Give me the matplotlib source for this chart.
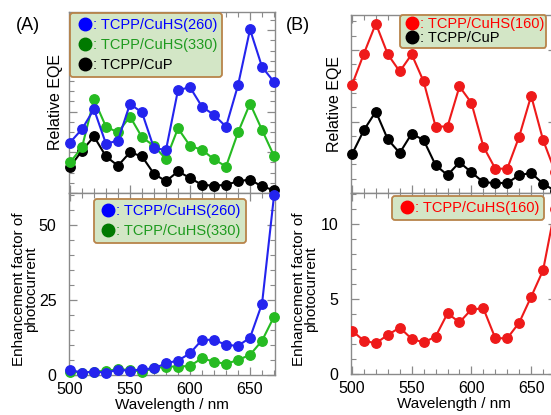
import matplotlib
matplotlib.use("Agg")
import matplotlib.pyplot as plt
from matplotlib.lines import Line2D
from matplotlib.ticker import MultipleLocator, NullFormatter

plt.rcParams['font.family'] = ['Liberation Sans', 'DejaVu Sans']

wavelength = [500, 510, 520, 530, 540, 550, 560, 570, 580, 590,
              600, 610, 620, 630, 640, 650, 660, 670]

# Panel A, relative EQE (arbitrary units)
eqe_a_260 = [1.24, 1.57, 2.06, 1.21, 1.29, 2.19, 1.98, 1.10, 1.06, 2.53,
             2.60, 2.12, 1.92, 1.63, 2.65, 4.02, 3.10, 2.73]
eqe_a_330 = [0.75, 1.12, 2.30, 1.63, 1.49, 1.88, 1.37, 1.16, 0.83, 1.59,
             1.16, 1.06, 0.83, 0.65, 1.49, 2.20, 1.55, 0.91]
eqe_a_cup = [0.64, 1.04, 1.39, 0.90, 0.67, 1.00, 0.90, 0.47, 0.29, 0.53,
             0.37, 0.20, 0.18, 0.20, 0.29, 0.33, 0.16, 0.07]

# Panel A, enhancement factor
enh_a_260 = [1.7, 0.8, 1.1, 0.8, 1.7, 1.4, 1.9, 2.2, 3.9, 4.8,
             7.2, 11.7, 11.7, 10.0, 9.7, 12.4, 23.7, 59.7]
enh_a_330 = [1.1, 0.8, 1.1, 1.4, 1.9, 1.7, 1.1, 2.2, 2.8, 2.8,
             3.0, 5.6, 4.4, 3.7, 5.0, 6.7, 11.4, 19.4]

# Panel B, relative EQE
eqe_b_160 = [1.51, 1.95, 2.37, 1.94, 1.70, 1.94, 1.56, 0.93, 0.93, 1.49,
             1.26, 0.65, 0.34, 0.34, 0.79, 1.36, 0.74, 0.30]
eqe_b_cup = [0.54, 0.88, 1.14, 0.75, 0.56, 0.83, 0.74, 0.39, 0.25, 0.43,
             0.29, 0.15, 0.14, 0.14, 0.25, 0.28, 0.13, 0.03]

# Panel B, enhancement factor
enh_b_160 = [2.89, 2.21, 2.05, 2.60, 3.09, 2.34, 2.10, 2.49, 4.04, 3.44,
             4.30, 4.37, 2.38, 2.38, 3.42, 5.14, 6.91, 11.0]

lbl_260 = ": TCPP/CuHS(260)"
lbl_330 = ": TCPP/CuHS(330)"
lbl_160 = ": TCPP/CuHS(160)"
lbl_cup = ": TCPP/CuP"

C_BLUE, C_GREEN, C_BLACK, C_RED = '#2424ee', '#26bb22', '#000000', '#ee1a1a'
L_BLUE, L_GREEN, L_BLACK, L_RED = '#0000ff', '#007a00', '#000000', '#ff0000'
SPINE = '#8a8a8a'
LEG_FACE = '#d3e6c6'
LEG_EDGE = '#b8844a'

W, H = 551, 415
fig = plt.figure(figsize=(W / 100, H / 100), dpi=100)


def frac(x0, y0, x1, y1):
    return [x0 / W, 1 - y1 / H, (x1 - x0) / W, (y1 - y0) / H]


def style(ax, ymaj, ymin, show_y=True, show_x=True):
    ax.set_xlim(499.2, 670.8)
    ax.xaxis.set_major_locator(MultipleLocator(50))
    ax.xaxis.set_minor_locator(MultipleLocator(10))
    ax.yaxis.set_major_locator(MultipleLocator(ymaj))
    ax.yaxis.set_minor_locator(MultipleLocator(ymin))
    for s in ax.spines.values():
        s.set_color(SPINE)
        s.set_linewidth(1.0)
    ax.tick_params(which='both', direction='in', top=True, right=True,
                   color=SPINE, labelsize=11.5)
    ax.tick_params(which='major', length=6, width=0.9)
    ax.tick_params(which='minor', length=3.5, width=0.8)
    ax.tick_params(axis='y', pad=9)
    ax.tick_params(axis='x', pad=5)
    if not show_y:
        ax.yaxis.set_major_formatter(NullFormatter())
    if not show_x:
        ax.xaxis.set_major_formatter(NullFormatter())


def plot(ax, y, c):
    ax.plot(wavelength, y, '-o', color=c, lw=1.5, ms=6.8, clip_on=False, zorder=3)


def legend(ax, entries, anchor, spacing=0.42, bpad=0.35):
    handles = [Line2D([], [], ls='none', marker='o', ms=9, color=lc) for lc, _, _ in entries]
    labels = [t for _, t, _ in entries]
    leg = ax.legend(handles, labels, loc='upper left', bbox_to_anchor=anchor,
                    frameon=True, fancybox=True, fontsize=10.5,
                    handletextpad=-0.1, handlelength=1.3, labelspacing=spacing,
                    borderpad=bpad, borderaxespad=0.0)
    fr = leg.get_frame()
    fr.set_facecolor(LEG_FACE)
    fr.set_edgecolor(LEG_EDGE)
    fr.set_linewidth(1.3)
    fr.set_alpha(1.0)
    for txt, (_, _, tc) in zip(leg.get_texts(), entries):
        txt.set_color(tc)
    leg.set_zorder(5)
    return leg


axA1 = fig.add_axes(frac(69, 12, 275, 193))
axA2 = fig.add_axes(frac(69, 193, 275, 375))
axB1 = fig.add_axes(frac(351, 15, 556, 193))
axB2 = fig.add_axes(frac(351, 193, 556, 374))

# ---------- Panel A ----------
style(axA1, 1, 0.25, show_y=False, show_x=False)
axA1.set_ylim(0, 4.45)
plot(axA1, eqe_a_cup, C_BLACK)
plot(axA1, eqe_a_330, C_GREEN)
plot(axA1, eqe_a_260, C_BLUE)
axA1.set_ylabel('Relative EQE', fontsize=11.5)
axA1.yaxis.set_label_coords(-0.03, 0.5)
legend(axA1, [(L_BLUE, lbl_260, L_BLUE), (L_GREEN, lbl_330, '#1e9a1e'),
              (L_BLACK, lbl_cup, 'black')], (0.005, 0.995))

style(axA2, 25, 5)
axA2.set_ylim(0, 60.5)
plot(axA2, enh_a_330, C_GREEN)
plot(axA2, enh_a_260, C_BLUE)
axA2.set_ylabel('Enhancement factor of\nphotocurrent', fontsize=11, linespacing=0.85)
axA2.yaxis.set_label_coords(-0.15, 0.47)
axA2.set_xlabel('Wavelength / nm', fontsize=11, labelpad=1)
legend(axA2, [(L_BLUE, lbl_260, L_BLUE), (L_GREEN, lbl_330, '#1e9a1e')], (0.12, 0.967))

# ---------- Panel B ----------
style(axB1, 1, 0.2, show_y=False, show_x=False)
axB1.set_ylim(0, 2.49)
plot(axB1, eqe_b_cup, C_BLACK)
plot(axB1, eqe_b_160, C_RED)
axB1.set_ylabel('Relative EQE', fontsize=11.5)
axB1.yaxis.set_label_coords(-0.044, 0.5)
legend(axB1, [(L_RED, lbl_160, L_RED), (L_BLACK, lbl_cup, 'black')], (0.24, 1.0),
       spacing=0.02, bpad=0.15)

style(axB2, 5, 1)
axB2.set_ylim(0, 12.05)
plot(axB2, enh_b_160, C_RED)
for ln in axB2.lines:
    ln.set_clip_on(True)
axB2.set_ylabel('Enhancement factor of\nphotocurrent', fontsize=11, linespacing=0.85)
axB2.yaxis.set_label_coords(-0.16, 0.47)
axB2.set_xlabel('Wavelength / nm', fontsize=11, labelpad=1)
legend(axB2, [(L_RED, lbl_160, L_RED)], (0.2, 0.983))

fig.text(28 / W, 1 - 25 / H, '(A)', fontsize=13, ha='center', va='center')
fig.text(298 / W, 1 - 25 / H, '(B)', fontsize=13, ha='center', va='center')

fig.savefig('out.png', dpi=100)
